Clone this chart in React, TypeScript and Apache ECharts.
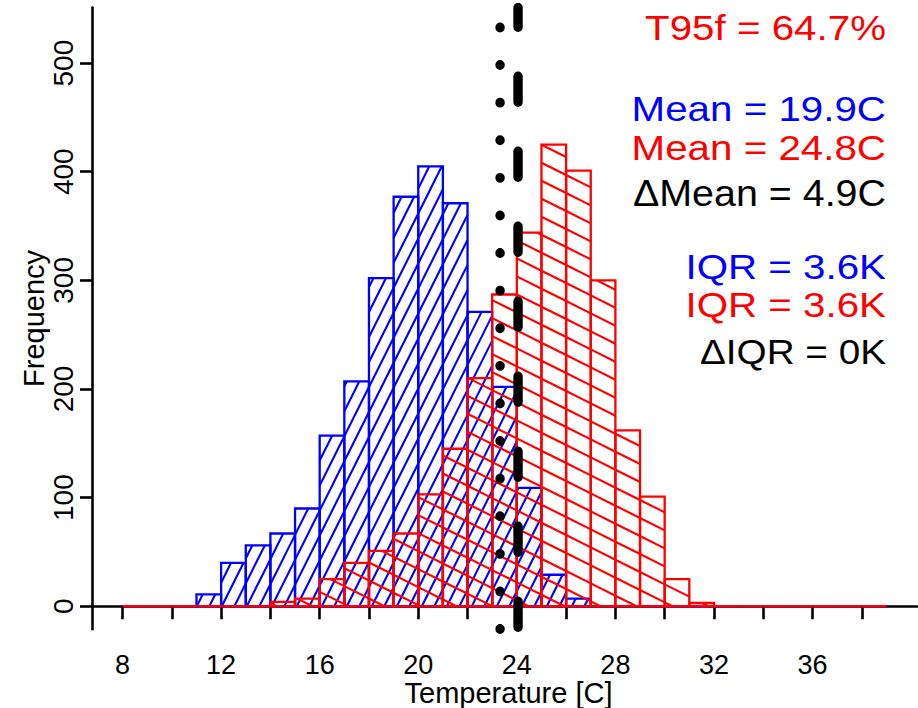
import React, { useEffect, useRef } from "react";
import * as echarts from "echarts";

// ---------- data ----------
const binStarts = [8, 9, 10, 11, 12, 13, 14, 15, 16, 17, 18, 19, 20, 21, 22, 23, 24, 25, 26, 27, 28, 29, 30, 31, 32, 33, 34, 35, 36, 37, 38];
const binWidth = 1;
const blueCounts = [0, 0, 0, 11, 40, 56, 67, 90, 157, 207, 302, 377, 405, 371, 271, 202, 109, 29, 7, 0, 0, 0, 0, 0, 0, 0, 0, 0, 0, 0, 0];
const redCounts = [0, 0, 0, 0, 0, 0, 4, 7, 25, 40, 51, 67, 103, 145, 210, 287, 344, 425, 401, 300, 162, 101, 25, 3, 0, 0, 0, 0, 0, 0, 0];
const xLimits = [8, 39];
const yLimits = [0, 530];
const xTickValues = [8, 10, 12, 14, 16, 18, 20, 22, 24, 26, 28, 30, 32, 34, 36, 38];
const xLabelValues = [8, 12, 16, 20, 24, 28, 32, 36];
const yTickValues = [0, 100, 200, 300, 400, 500];
const dottedLineX = 23.32;
const dashedLineX = 24.05;
const annotationTexts = ["T95f = 64.7%", "Mean = 19.9C", "Mean = 24.8C", "\u0394Mean = 4.9C", "IQR = 3.6K", "IQR = 3.6K", "\u0394IQR = 0K"];
const annotationColors = ["#ff0000", "#0000ff", "#ff0000", "#000000", "#0000ff", "#ff0000", "#000000"];

// ---------- helpers ----------
const FONT = "'Liberation Sans', Arial, Helvetica, sans-serif";
const ext = (lim: number[]) => {
  const d = (lim[1] - lim[0]) * 0.04;
  return [lim[0] - d, lim[1] + d];
};
const [xMin, xMax] = ext(xLimits);
const [yMin, yMax] = ext(yLimits);

function hatchSegments(
  x0: number, y0: number, x1: number, y1: number,
  nx: number, ny: number, spacing: number, phase: number
) {
  const segs: number[][] = [];
  const cs = [x0 * nx + y0 * ny, x1 * nx + y0 * ny, x0 * nx + y1 * ny, x1 * nx + y1 * ny];
  const cmin = Math.min(...cs);
  const cmax = Math.max(...cs);
  const dx = -ny;
  const dy = nx;
  for (let k = Math.ceil((cmin - phase) / spacing); phase + k * spacing <= cmax; k++) {
    const c = phase + k * spacing;
    const px = nx * c;
    const py = ny * c;
    let tmin = -Infinity;
    let tmax = Infinity;
    if (Math.abs(dx) > 1e-9) {
      let a = (x0 - px) / dx, b = (x1 - px) / dx;
      if (a > b) [a, b] = [b, a];
      tmin = Math.max(tmin, a); tmax = Math.min(tmax, b);
    } else if (px < x0 || px > x1) continue;
    if (Math.abs(dy) > 1e-9) {
      let a = (y0 - py) / dy, b = (y1 - py) / dy;
      if (a > b) [a, b] = [b, a];
      tmin = Math.max(tmin, a); tmax = Math.min(tmax, b);
    } else if (py < y0 || py > y1) continue;
    if (tmax - tmin > 0.5) {
      segs.push([px + dx * tmin, py + dy * tmin, px + dx * tmax, py + dy * tmax]);
    }
  }
  return segs;
}

function makeRender(color: string, dirX: number, dirY: number, spacing: number, phase: number) {
  const len = Math.hypot(dirX, dirY);
  const nx = -dirY / len;
  const ny = dirX / len;
  return (_params: any, api: any) => {
    const a = api.coord([api.value(0), 0]);
    const b = api.coord([api.value(1), api.value(2)]);
    const x0 = Math.min(a[0], b[0]);
    const x1 = Math.max(a[0], b[0]);
    const y0 = Math.min(a[1], b[1]);
    const y1 = Math.max(a[1], b[1]);
    const children: any[] = [];
    if (y1 - y0 > 1) {
      hatchSegments(x0, y0, x1, y1, nx, ny, spacing, phase).forEach((s) => {
        children.push({
          type: "line",
          shape: { x1: s[0], y1: s[1], x2: s[2], y2: s[3] },
          style: { stroke: color, lineWidth: 2.1 },
        });
      });
    }
    children.push({
      type: "polygon",
      shape: { points: [[x0, y1], [x0, y0], [x1, y0], [x1, y1]] },
      style: { fill: "none", stroke: color, lineWidth: 2.3 },
    });
    return { type: "group", children };
  };
}

const blueData = binStarts.map((s, i) => [s, s + binWidth, blueCounts[i]]);
const redData = binStarts.map((s, i) => [s, s + binWidth, redCounts[i]]);

const annotationY = [27, 108, 147, 194, 266, 304, 351];
const annotationScaleX = [1.12, 1.12, 1.12, 1.095, 1.12, 1.12, 1.075];

export default function App() {
  const ref = useRef<HTMLDivElement>(null);
  useEffect(() => {
    if (!ref.current) return;
    const chart = echarts.init(ref.current, undefined, { renderer: "svg" });
    const option: any = {
      animation: false,
      backgroundColor: "#ffffff",
      grid: { left: 92, right: 1, top: 7.5, bottom: 78.7, containLabel: false, outerBoundsMode: "none" },
      xAxis: {
        type: "value",
        min: xMin,
        max: xMax,
        name: "Temperature [C]",
        nameLocation: "middle",
        nameGap: 49.5,
        nameMoveOverlap: false,
        nameTextStyle: { fontFamily: FONT, fontSize: 29, color: "#000", padding: [0, 0, 0, 8] },
        axisLine: { show: true, lineStyle: { color: "#000", width: 2.6 } },
        axisTick: { show: true, length: 13, lineStyle: { color: "#000", width: 2.6 }, customValues: xTickValues },
        axisLabel: { show: true, fontFamily: FONT, fontSize: 27, color: "#000", margin: 22, customValues: xLabelValues },
        splitLine: { show: false },
      },
      yAxis: {
        type: "value",
        min: yMin,
        max: yMax,
        name: "Frequency",
        nameLocation: "middle",
        nameRotate: 90,
        nameGap: 44,
        nameMoveOverlap: false,
        nameTextStyle: { fontFamily: FONT, fontSize: 29, color: "#000" },
        axisLine: { show: true, lineStyle: { color: "#000", width: 2.6 } },
        axisTick: { show: true, length: 12, lineStyle: { color: "#000", width: 2.6 }, customValues: yTickValues },
        axisLabel: { show: true, rotate: 90, fontFamily: FONT, fontSize: 28, color: "#000", margin: 15, customValues: yTickValues },
        splitLine: { show: false },
      },
      series: [
        {
          type: "custom",
          name: "blue",
          data: blueData,
          encode: { x: [0, 1], y: 2 },
          renderItem: makeRender("#0000ff", 1, -2, 11.18, 0),
          z: 2,
        },
        {
          type: "custom",
          name: "red",
          data: redData,
          encode: { x: [0, 1], y: 2 },
          renderItem: makeRender("#ff0000", 1, 0.5, 16.1, 0),
          z: 3,
        },
        {
          type: "line",
          data: [[dottedLineX, yMin], [dottedLineX, yMax]],
          symbol: "none",
          lineStyle: { color: "#000", width: 9.4, type: [0.5, 37.1], cap: "round" },
          z: 5,
          silent: true,
        },
        {
          type: "line",
          data: [[dashedLineX, yMin], [dashedLineX, yMax]],
          symbol: "none",
          lineStyle: { color: "#000", width: 9.4, type: [26, 49], dashOffset: 73, cap: "round" },
          z: 5,
          silent: true,
        },
      ],
      graphic: annotationTexts.map((t, i) => ({
        type: "text",
        x: 886,
        y: annotationY[i],
        scaleX: annotationScaleX[i],
        z: 10,
        style: {
          text: t,
          x: 0,
          y: 0,
          align: "right",
          verticalAlign: "middle",
          fill: annotationColors[i],
          font: `36px ${FONT}`,
        },
      })),
    };
    chart.setOption(option);
    return () => chart.dispose();
  }, []);
  return <div ref={ref} style={{ position: "absolute", left: 0, top: 0, width: 918, height: 708 }} />;
}
